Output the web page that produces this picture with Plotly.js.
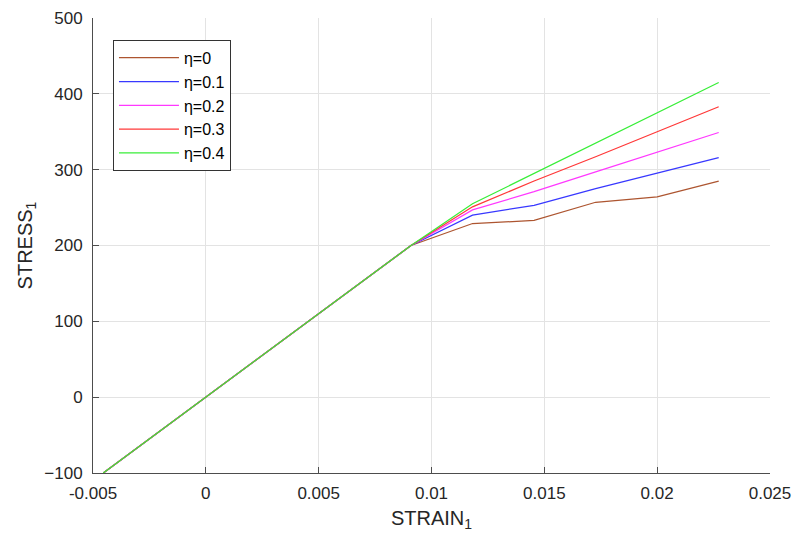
<!DOCTYPE html>
<html>
<head>
<meta charset="utf-8">
<script src="https://cdn.plot.ly/plotly-3.0.1.min.js"></script>
<style>
  html, body { margin: 0; padding: 0; background: #ffffff; }
  #chart { width: 795px; height: 537px; }
</style>
</head>
<body>
<div id="chart"></div>
<script>
// Strain sample points (shared by every curve)
const strain = [-0.004545, 0, 0.009091, 0.011818, 0.014545, 0.017273, 0.020000, 0.022727];

// Stress response for each parameter level eta
const stressEta0  = [-100, 0, 200, 229, 233, 257, 264, 285];
const stressEta01 = [-100, 0, 200, 240, 253, 275, 295, 316];
const stressEta02 = [-100, 0, 200, 247, 271, 297, 323, 349];
const stressEta03 = [-100, 0, 200, 251, 285, 317, 350, 383];
const stressEta04 = [-100, 0, 200, 255, 295, 335, 375, 415];

const seriesNames = ['η=0', 'η=0.1', 'η=0.2', 'η=0.3', 'η=0.4'];
const seriesData  = [stressEta0, stressEta01, stressEta02, stressEta03, stressEta04];
const seriesColors = ['#AD5530', '#3838FF', '#FF38FF', '#FF3838', '#38EE38'];

const xTicks = [-0.005, 0, 0.005, 0.01, 0.015, 0.02, 0.025];
const xTickLabels = ['-0.005', '0', '0.005', '0.01', '0.015', '0.02', '0.025'];
const yTicks = [-100, 0, 100, 200, 300, 400, 500];

const traces = seriesData.map((ys, i) => ({
  x: strain,
  y: ys,
  type: 'scatter',
  mode: 'lines',
  name: seriesNames[i],
  line: { color: seriesColors[i], width: 1.25 }
}));

const FONT = 'Liberation Sans, Arial, sans-serif';
const tickFont = { family: FONT, size: 17, color: '#262626' };
const titleFont = { family: FONT, size: 20, color: '#262626' };

const layout = {
  width: 795,
  height: 537,
  margin: { l: 93, r: 25, t: 18, b: 64 },
  paper_bgcolor: '#ffffff',
  plot_bgcolor: '#ffffff',
  font: tickFont,
  showlegend: true,
  xaxis: {
    range: [-0.005, 0.025],
    tickvals: xTicks,
    ticktext: xTickLabels,
    ticks: 'inside',
    ticklen: 6,
    tickcolor: '#4d4d4d',
    ticklabelstandoff: 5,
    showline: true,
    linecolor: '#4d4d4d',
    linewidth: 1,
    showgrid: true,
    gridcolor: '#e3e3e3',
    zeroline: false,
    tickfont: tickFont,
    automargin: false,
    title: { text: 'STRAIN<sub>1</sub>', font: titleFont, standoff: 8 }
  },
  yaxis: {
    range: [-100, 500],
    tickvals: yTicks,
    ticks: 'inside',
    ticklen: 6,
    tickcolor: '#4d4d4d',
    ticklabelstandoff: 6,
    showline: true,
    linecolor: '#4d4d4d',
    linewidth: 1,
    showgrid: true,
    gridcolor: '#e3e3e3',
    zeroline: false,
    tickfont: tickFont,
    automargin: false,
    title: { text: 'STRESS<sub>1</sub>', font: titleFont, standoff: 6 }
  },
  legend: {
    x: 0.0295,
    y: 0.952,
    xanchor: 'left',
    yanchor: 'top',
    bgcolor: '#ffffff',
    bordercolor: '#333333',
    borderwidth: 1,
    font: { family: FONT, size: 16, color: '#000000' },
    itemwidth: 60,
    tracegroupgap: 0
  }
};

Plotly.newPlot('chart', traces, layout, { displayModeBar: false, staticPlot: true });
</script>
</body>
</html>
